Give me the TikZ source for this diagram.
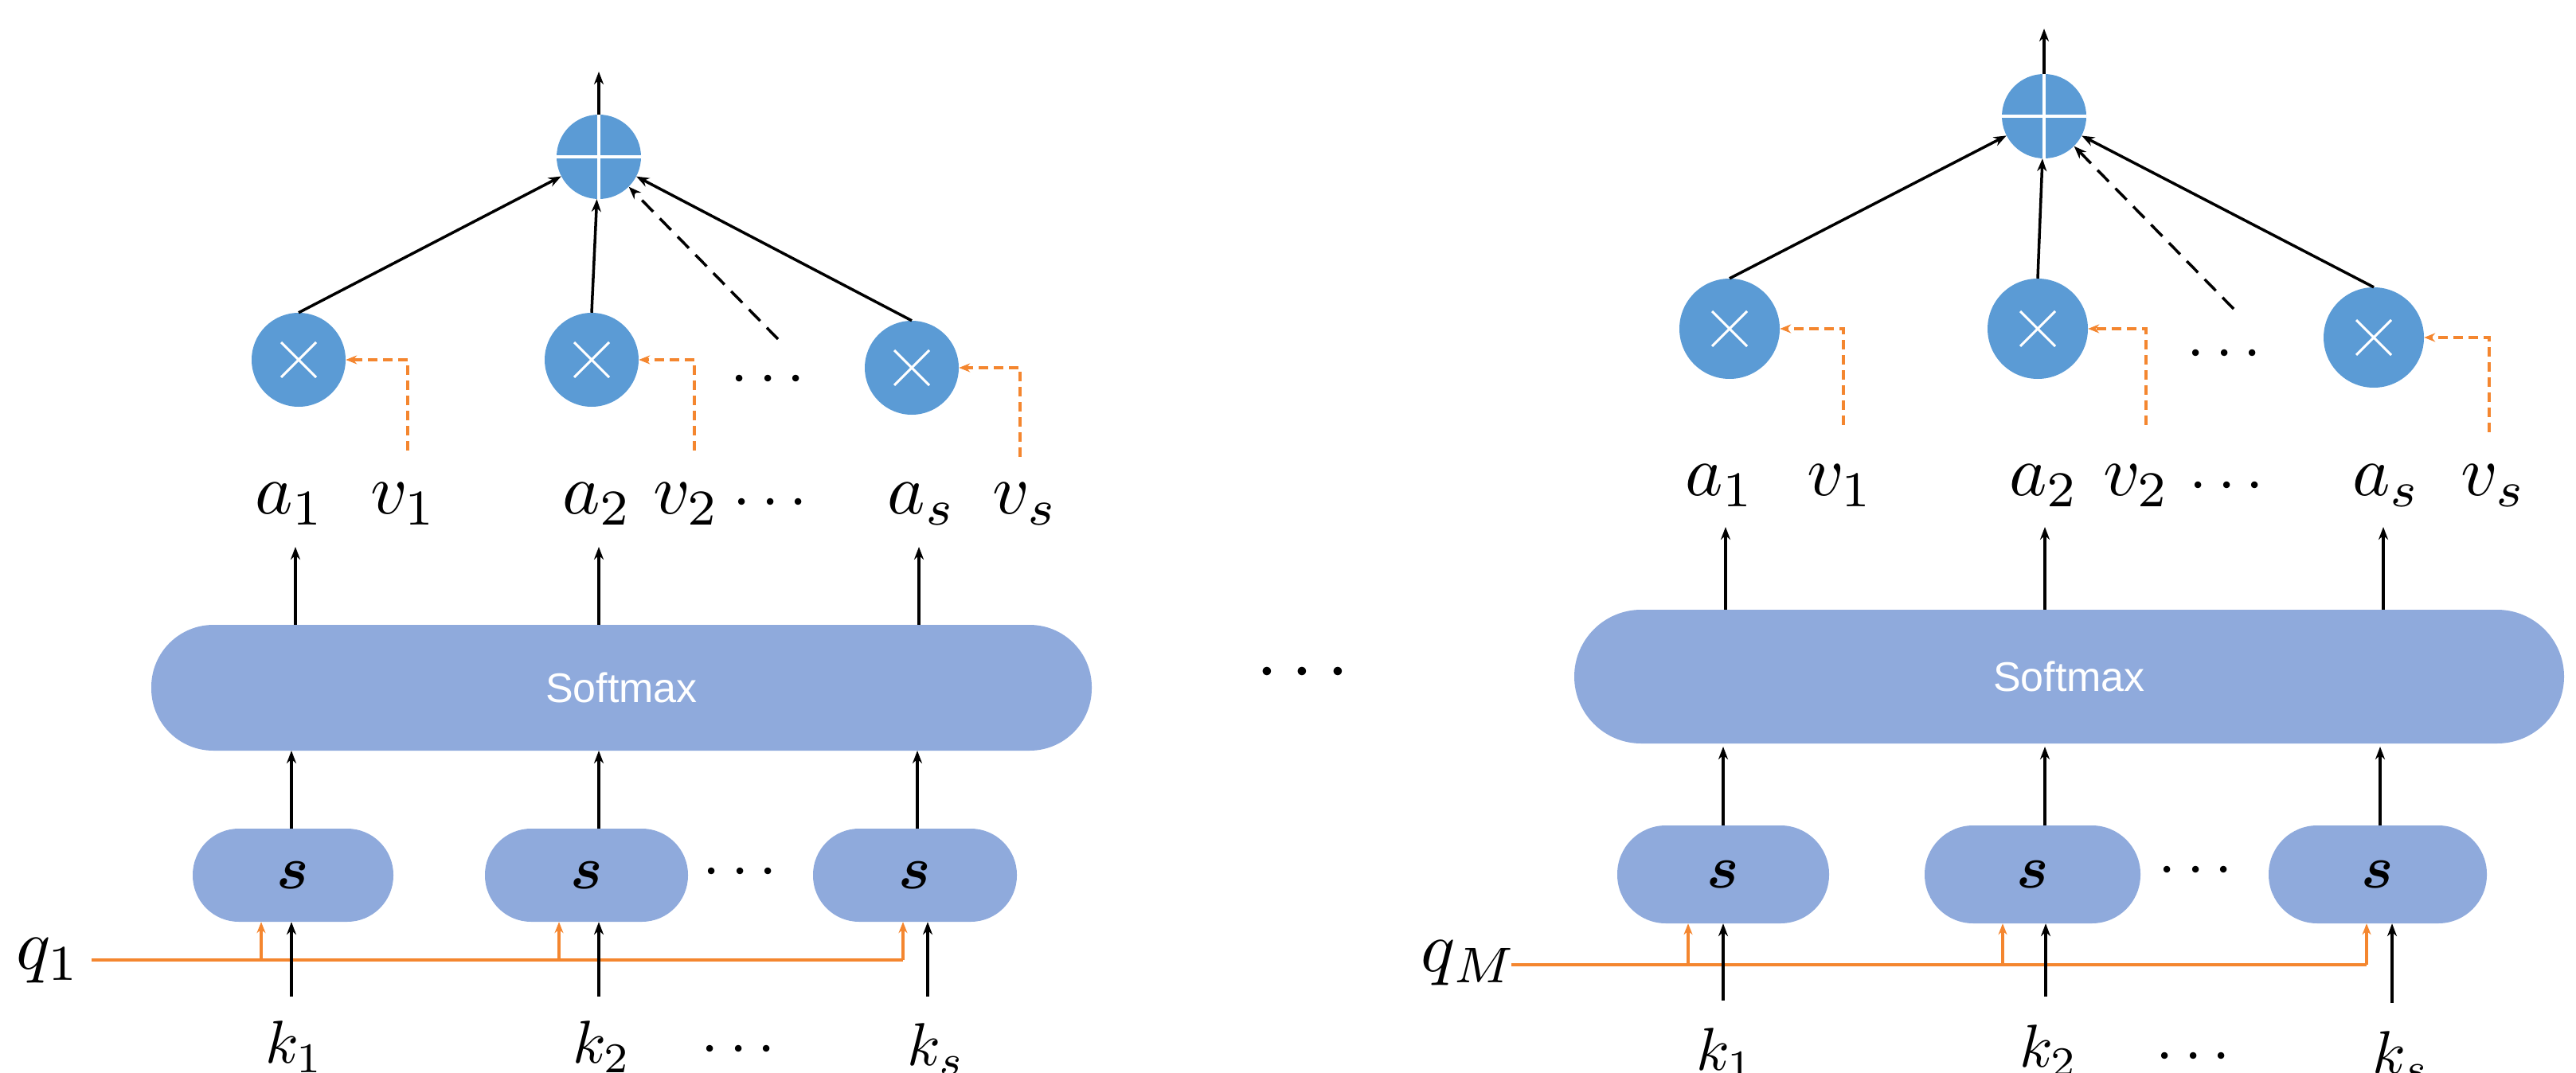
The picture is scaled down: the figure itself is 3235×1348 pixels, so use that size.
\documentclass[tikz,border=0pt]{standalone}
\usepackage{fontspec}
\setmainfont{Liberation Sans}
\usepackage{amsmath,bm}
\usetikzlibrary{arrows.meta}
\definecolor{cblue}{HTML}{5B9BD5}
\definecolor{sblue}{HTML}{8FAADC}
\definecolor{corange}{HTML}{F4862F}
\newcommand{\myLab}[1]{\scalebox{9}{$#1$}}
\newcommand{\myKLab}[1]{\scalebox{7.6}{$#1$}}
\newcommand{\myDots}{\scalebox{8}{$\cdots$}}
\newcommand{\myS}{\scalebox{7.6}{$\bm{s}$}}
\begin{document}
\begin{tikzpicture}[x=1pt,y=-1pt,
  ar/.style={line width=3.5pt,-{Stealth[length=16pt,width=12pt]}},
  oar/.style={line width=3.5pt,draw=corange,-{Stealth[length=14pt,width=11pt]}},
  odash/.style={oar,dash pattern=on 12pt off 7pt},
  bdash/.style={ar,dash pattern=on 20pt off 12pt},
  mul/.style={circle,fill=cblue,minimum size=118pt,inner sep=0pt},
  plus/.style={circle,fill=cblue,minimum size=106pt,inner sep=0pt},
  soft/.style={rounded corners=78pt,fill=sblue,inner sep=0pt},
  sbox/.style={rounded corners=58pt,fill=sblue,inner sep=0pt},
  lab/.style={inner sep=0pt},
  wl/.style={white,line width=4pt}]
\useasboundingbox (0,0) rectangle (3235,1348);
% ================= LEFT PANEL =================
\node[plus] (P) at (752,197) {};
\draw[wl] (P.west) -- (P.east) (P.north) -- (P.south);
\coordinate (Pout) at (752,90);
\draw[ar] (P.north) -- (Pout);
\node[mul] (M1) at (375,452) {};
\node[mul] (M2) at (743,452) {};
\node[mul] (M3) at (1145,462) {};
\foreach \m in {M1,M2,M3}{\draw[wl,line width=3pt] (\m)+(-22,-22) -- +(22,22) (\m)+(-22,22) -- +(22,-22);}
\draw[ar] (M1.north) -- (P);
\draw[ar] (M2.north) -- (P);
\draw[ar] (M3.north) -- (P);
\coordinate (D) at (977,426);
\draw[bdash] (D) -- (P.south east);
\node[lab] (dm) at (971,478) {\myDots};
\coordinate (V1) at (512,566);
\coordinate (V2) at (872,566);
\coordinate (V3) at (1281,574);
\draw[odash] (V1) |- (M1.east);
\draw[odash] (V2) |- (M2.east);
\draw[odash] (V3) |- (M3.east);
\node[lab] (a1) at (364,633) {\myLab{a_1}};
\node[lab] (v1) at (507,633) {\myLab{v_1}};
\node[lab] (a2) at (750,633) {\myLab{a_2}};
\node[lab] (v2) at (862,633) {\myLab{v_2}};
\node[lab] (da) at (974,633) {\myDots};
\node[lab] (a3) at (1158,633) {\myLab{a_s}};
\node[lab] (v3) at (1288,633) {\myLab{v_s}};
\node[soft,minimum width=1181pt,minimum height=158pt] (S) at (780.5,864) {};
\node[text=white,font=\fontsize{52}{52}\selectfont] at (S) {Softmax};
\coordinate (A1) at (371,687);
\coordinate (A2) at (752,687);
\coordinate (A3) at (1154,687);
\draw[ar] (A1 |- S.north) -- (A1);
\draw[ar] (A2 |- S.north) -- (A2);
\draw[ar] (A3 |- S.north) -- (A3);
\node[sbox,minimum width=252pt,minimum height=117pt] (s1) at (368,1099.5) {};
\node[sbox,minimum width=255pt,minimum height=117pt] (s2) at (736.5,1099.5) {};
\node[sbox,minimum width=256pt,minimum height=117pt] (s3) at (1149,1099.5) {};
\foreach \s in {s1,s2,s3}{\node[lab] at (\s) {\myS};}
\node[lab] (ds) at (936,1097) {\myDots};
\draw[ar] (366,1041) -- (366,943);
\draw[ar] (752,1041) -- (752,943);
\draw[ar] (1152,1041) -- (1152,943);
\node[lab] (q1) at (61,1207) {\myLab{q_1}};
\coordinate (Q) at (1134,1206);
\draw[corange,line width=3.5pt] (115,1206) -- (Q);
\draw[oar] (328,1206) -- (328,1206 |- s1.south);
\draw[oar] (702,1206) -- (702,1206 |- s2.south);
\draw[oar] (Q) -- (Q |- s3.south);
\node[lab] (k1) at (370,1315) {\myKLab{k_1}};
\node[lab] (k2) at (756,1315) {\myKLab{k_2}};
\node[lab] (dk) at (934,1320) {\myDots};
\node[lab] (k3) at (1176,1318) {\myKLab{k_s}};
\draw[ar] (366,1252) -- (366,1252 |- s1.south);
\draw[ar] (752,1252) -- (752,1252 |- s2.south);
\draw[ar] (1165,1252) -- (1165,1252 |- s3.south);
% middle dots
\node[lab] (mid) at (1644,846) {\scalebox{10}{$\cdots$}};
% ================= RIGHT PANEL =================
\node[plus] (RP) at (2567,146) {};
\draw[wl] (RP.west) -- (RP.east) (RP.north) -- (RP.south);
\coordinate (RPout) at (2567,36);
\draw[ar] (RP.north) -- (RPout);
\node[mul,minimum size=126pt] (RM1) at (2172,413) {};
\node[mul,minimum size=126pt] (RM2) at (2559,413) {};
\node[mul,minimum size=126pt] (RM3) at (2981,424) {};
\foreach \m in {RM1,RM2,RM3}{\draw[wl,line width=3pt] (\m)+(-22,-22) -- +(22,22) (\m)+(-22,22) -- +(22,-22);}
\draw[ar] (RM1.north) -- (RP);
\draw[ar] (RM2.north) -- (RP);
\draw[ar] (RM3.north) -- (RP);
\coordinate (RD) at (2805,388);
\draw[bdash] (RD) -- (RP.south east);
\node[lab] (rdm) at (2800,446) {\myDots};
\coordinate (RV1) at (2315,534);
\coordinate (RV2) at (2695,534);
\coordinate (RV3) at (3126,543);
\draw[odash] (RV1) |- (RM1.east);
\draw[odash] (RV2) |- (RM2.east);
\draw[odash] (RV3) |- (RM3.east);
\node[lab] (ra1) at (2160,610) {\myLab{a_1}};
\node[lab] (rv1) at (2311,610) {\myLab{v_1}};
\node[lab] (ra2) at (2567,610) {\myLab{a_2}};
\node[lab] (rv2) at (2683,610) {\myLab{v_2}};
\node[lab] (rda) at (2803,612) {\myDots};
\node[lab] (ra3) at (2997,610) {\myLab{a_s}};
\node[lab] (rv3) at (3132,610) {\myLab{v_s}};
\node[soft,minimum width=1243pt,minimum height=168pt,rounded corners=84pt] (RS) at (2598.5,850) {};
\node[text=white,font=\fontsize{52}{52}\selectfont] at (RS) {Softmax};
\coordinate (RA1) at (2167,662);
\coordinate (RA2) at (2568,662);
\coordinate (RA3) at (2993,662);
\draw[ar] (RA1 |- RS.north) -- (RA1);
\draw[ar] (RA2 |- RS.north) -- (RA2);
\draw[ar] (RA3 |- RS.north) -- (RA3);
\node[sbox,minimum width=266pt,minimum height=123pt,rounded corners=61pt] (rs1) at (2164,1098.5) {};
\node[sbox,minimum width=271pt,minimum height=123pt,rounded corners=61pt] (rs2) at (2552.5,1098.5) {};
\node[sbox,minimum width=274pt,minimum height=123pt,rounded corners=61pt] (rs3) at (2986,1098.5) {};
\foreach \s in {rs1,rs2,rs3}{\node[lab] at (\s) {\myS};}
\node[lab] (rds) at (2764,1095) {\myDots};
\draw[ar] (2164,1037) -- (2164,938);
\draw[ar] (2568,1037) -- (2568,938);
\draw[ar] (2989,1037) -- (2989,938);
\node[lab] (qM) at (1845,1210) {\myLab{q_M}};
\coordinate (RQ) at (2972,1212);
\draw[corange,line width=3.5pt] (1898,1212) -- (RQ);
\draw[oar] (2120,1212) -- (2120,1212 |- rs1.south);
\draw[oar] (2515,1212) -- (2515,1212 |- rs2.south);
\draw[oar] (RQ) -- (RQ |- rs3.south);
\node[lab] (rk1) at (2167,1324) {\myKLab{k_1}};
\node[lab] (rk2) at (2573,1320) {\myKLab{k_2}};
\node[lab] (rdk) at (2761,1329) {\myDots};
\node[lab] (rk3) at (3015,1328) {\myKLab{k_s}};
\draw[ar] (2164,1257) -- (2164,1257 |- rs1.south);
\draw[ar] (2569,1252) -- (2569,1252 |- rs2.south);
\draw[ar] (3004,1260) -- (3004,1260 |- rs3.south);
\end{tikzpicture}
\end{document}
